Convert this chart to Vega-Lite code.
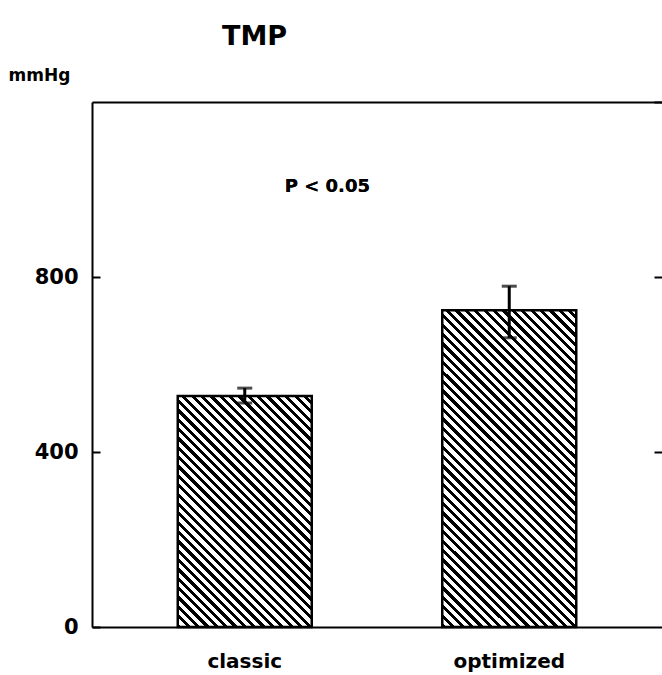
{
  "$schema": "https://vega.github.io/schema/vega-lite/v6.json",
  "width": 570,
  "height": 525,
  "autosize": {"type": "none"},
  "padding": {"left": 92, "top": 102, "right": 0, "bottom": 48},
  "background": "white",
  "config": {
    "view": {"stroke": null},
    "font": "DejaVu Sans",
    "axis": {"grid": false, "domainColor": "black", "domainWidth": 2, "tickColor": "black", "tickWidth": 2, "labelColor": "black", "titleColor": "black", "labelFont": "DejaVu Sans", "titleFont": "DejaVu Sans", "labelFontWeight": "bold", "titleFontWeight": "bold"}
  },
  "data": {
    "values": [
      {"method": "classic", "value": 528, "lower": 512, "upper": 546},
      {"method": "optimized", "value": 724, "lower": 661, "upper": 779}
    ]
  },
  "resolve": {"axis": {"x": "independent", "y": "independent"}},
  "layer": [
    {
      "transform": [{"filter": "datum.method == 'classic'"}],
      "mark": {
        "type": "bar",
        "stroke": "black",
        "strokeWidth": 2.5,
        "fill": {
          "gradient": "linear", "x1": 0, "y1": 1, "x2": 0.6858, "y2": -0.1823,
          "stops": [
            {"offset":0,"color":"#000"},{"offset":0.0115,"color":"#000"},{"offset":0.0115,"color":"#fff"},{"offset":0.0256,"color":"#fff"},
            {"offset":0.0256,"color":"#000"},{"offset":0.0372,"color":"#000"},{"offset":0.0372,"color":"#fff"},{"offset":0.0513,"color":"#fff"},
            {"offset":0.0513,"color":"#000"},{"offset":0.0628,"color":"#000"},{"offset":0.0628,"color":"#fff"},{"offset":0.0769,"color":"#fff"},
            {"offset":0.0769,"color":"#000"},{"offset":0.0885,"color":"#000"},{"offset":0.0885,"color":"#fff"},{"offset":0.1026,"color":"#fff"},
            {"offset":0.1026,"color":"#000"},{"offset":0.1141,"color":"#000"},{"offset":0.1141,"color":"#fff"},{"offset":0.1282,"color":"#fff"},
            {"offset":0.1282,"color":"#000"},{"offset":0.1397,"color":"#000"},{"offset":0.1397,"color":"#fff"},{"offset":0.1538,"color":"#fff"},
            {"offset":0.1538,"color":"#000"},{"offset":0.1654,"color":"#000"},{"offset":0.1654,"color":"#fff"},{"offset":0.1795,"color":"#fff"},
            {"offset":0.1795,"color":"#000"},{"offset":0.1910,"color":"#000"},{"offset":0.1910,"color":"#fff"},{"offset":0.2051,"color":"#fff"},
            {"offset":0.2051,"color":"#000"},{"offset":0.2167,"color":"#000"},{"offset":0.2167,"color":"#fff"},{"offset":0.2308,"color":"#fff"},
            {"offset":0.2308,"color":"#000"},{"offset":0.2423,"color":"#000"},{"offset":0.2423,"color":"#fff"},{"offset":0.2564,"color":"#fff"},
            {"offset":0.2564,"color":"#000"},{"offset":0.2679,"color":"#000"},{"offset":0.2679,"color":"#fff"},{"offset":0.2821,"color":"#fff"},
            {"offset":0.2821,"color":"#000"},{"offset":0.2936,"color":"#000"},{"offset":0.2936,"color":"#fff"},{"offset":0.3077,"color":"#fff"},
            {"offset":0.3077,"color":"#000"},{"offset":0.3192,"color":"#000"},{"offset":0.3192,"color":"#fff"},{"offset":0.3333,"color":"#fff"},
            {"offset":0.3333,"color":"#000"},{"offset":0.3449,"color":"#000"},{"offset":0.3449,"color":"#fff"},{"offset":0.3590,"color":"#fff"},
            {"offset":0.3590,"color":"#000"},{"offset":0.3705,"color":"#000"},{"offset":0.3705,"color":"#fff"},{"offset":0.3846,"color":"#fff"},
            {"offset":0.3846,"color":"#000"},{"offset":0.3962,"color":"#000"},{"offset":0.3962,"color":"#fff"},{"offset":0.4103,"color":"#fff"},
            {"offset":0.4103,"color":"#000"},{"offset":0.4218,"color":"#000"},{"offset":0.4218,"color":"#fff"},{"offset":0.4359,"color":"#fff"},
            {"offset":0.4359,"color":"#000"},{"offset":0.4474,"color":"#000"},{"offset":0.4474,"color":"#fff"},{"offset":0.4615,"color":"#fff"},
            {"offset":0.4615,"color":"#000"},{"offset":0.4731,"color":"#000"},{"offset":0.4731,"color":"#fff"},{"offset":0.4872,"color":"#fff"},
            {"offset":0.4872,"color":"#000"},{"offset":0.4987,"color":"#000"},{"offset":0.4987,"color":"#fff"},{"offset":0.5128,"color":"#fff"},
            {"offset":0.5128,"color":"#000"},{"offset":0.5244,"color":"#000"},{"offset":0.5244,"color":"#fff"},{"offset":0.5385,"color":"#fff"},
            {"offset":0.5385,"color":"#000"},{"offset":0.5500,"color":"#000"},{"offset":0.5500,"color":"#fff"},{"offset":0.5641,"color":"#fff"},
            {"offset":0.5641,"color":"#000"},{"offset":0.5756,"color":"#000"},{"offset":0.5756,"color":"#fff"},{"offset":0.5897,"color":"#fff"},
            {"offset":0.5897,"color":"#000"},{"offset":0.6013,"color":"#000"},{"offset":0.6013,"color":"#fff"},{"offset":0.6154,"color":"#fff"},
            {"offset":0.6154,"color":"#000"},{"offset":0.6269,"color":"#000"},{"offset":0.6269,"color":"#fff"},{"offset":0.6410,"color":"#fff"},
            {"offset":0.6410,"color":"#000"},{"offset":0.6526,"color":"#000"},{"offset":0.6526,"color":"#fff"},{"offset":0.6667,"color":"#fff"},
            {"offset":0.6667,"color":"#000"},{"offset":0.6782,"color":"#000"},{"offset":0.6782,"color":"#fff"},{"offset":0.6923,"color":"#fff"},
            {"offset":0.6923,"color":"#000"},{"offset":0.7038,"color":"#000"},{"offset":0.7038,"color":"#fff"},{"offset":0.7179,"color":"#fff"},
            {"offset":0.7179,"color":"#000"},{"offset":0.7295,"color":"#000"},{"offset":0.7295,"color":"#fff"},{"offset":0.7436,"color":"#fff"},
            {"offset":0.7436,"color":"#000"},{"offset":0.7551,"color":"#000"},{"offset":0.7551,"color":"#fff"},{"offset":0.7692,"color":"#fff"},
            {"offset":0.7692,"color":"#000"},{"offset":0.7808,"color":"#000"},{"offset":0.7808,"color":"#fff"},{"offset":0.7949,"color":"#fff"},
            {"offset":0.7949,"color":"#000"},{"offset":0.8064,"color":"#000"},{"offset":0.8064,"color":"#fff"},{"offset":0.8205,"color":"#fff"},
            {"offset":0.8205,"color":"#000"},{"offset":0.8321,"color":"#000"},{"offset":0.8321,"color":"#fff"},{"offset":0.8462,"color":"#fff"},
            {"offset":0.8462,"color":"#000"},{"offset":0.8577,"color":"#000"},{"offset":0.8577,"color":"#fff"},{"offset":0.8718,"color":"#fff"},
            {"offset":0.8718,"color":"#000"},{"offset":0.8833,"color":"#000"},{"offset":0.8833,"color":"#fff"},{"offset":0.8974,"color":"#fff"},
            {"offset":0.8974,"color":"#000"},{"offset":0.9090,"color":"#000"},{"offset":0.9090,"color":"#fff"},{"offset":0.9231,"color":"#fff"},
            {"offset":0.9231,"color":"#000"},{"offset":0.9346,"color":"#000"},{"offset":0.9346,"color":"#fff"},{"offset":0.9487,"color":"#fff"},
            {"offset":0.9487,"color":"#000"},{"offset":0.9603,"color":"#000"},{"offset":0.9603,"color":"#fff"},{"offset":0.9744,"color":"#fff"},
            {"offset":0.9744,"color":"#000"},{"offset":0.9859,"color":"#000"},{"offset":0.9859,"color":"#fff"},{"offset":1,"color":"#fff"}
          ]
        }
      },
      "encoding": {
        "x": {
          "field": "method", "type": "nominal",
          "scale": {"paddingInner": 0.4934, "paddingOuter": 0.3242},
          "axis": {"orient": "bottom", "title": null, "labelAngle": 0, "ticks": false, "labelFontSize": 20, "labelPadding": 24, "labelBaseline": "top"}
        },
        "y": {
          "field": "value", "type": "quantitative",
          "scale": {"domain": [0, 1200], "nice": false, "zero": true},
          "axis": {"orient": "left", "values": [0, 400, 800], "tickSize": -8, "labelPadding": 22, "labelFontSize": 21, "title": "mmHg", "titleAngle": 0, "titleX": -84, "titleY": -22, "titleAlign": "left", "titleBaseline": "alphabetic", "titleFontSize": 17}
        }
      }
    },
    {
      "transform": [{"filter": "datum.method == 'optimized'"}],
      "mark": {
        "type": "bar",
        "stroke": "black",
        "strokeWidth": 2.5,
        "fill": {
          "gradient": "linear", "x1": 0, "y1": 1, "x2": 0.5103, "y2": -0.2071,
          "stops": [
            {"offset":0,"color":"#000"},{"offset":0.0094,"color":"#000"},{"offset":0.0094,"color":"#fff"},{"offset":0.0208,"color":"#fff"},
            {"offset":0.0208,"color":"#000"},{"offset":0.0302,"color":"#000"},{"offset":0.0302,"color":"#fff"},{"offset":0.0417,"color":"#fff"},
            {"offset":0.0417,"color":"#000"},{"offset":0.0510,"color":"#000"},{"offset":0.0510,"color":"#fff"},{"offset":0.0625,"color":"#fff"},
            {"offset":0.0625,"color":"#000"},{"offset":0.0719,"color":"#000"},{"offset":0.0719,"color":"#fff"},{"offset":0.0833,"color":"#fff"},
            {"offset":0.0833,"color":"#000"},{"offset":0.0927,"color":"#000"},{"offset":0.0927,"color":"#fff"},{"offset":0.1042,"color":"#fff"},
            {"offset":0.1042,"color":"#000"},{"offset":0.1135,"color":"#000"},{"offset":0.1135,"color":"#fff"},{"offset":0.1250,"color":"#fff"},
            {"offset":0.1250,"color":"#000"},{"offset":0.1344,"color":"#000"},{"offset":0.1344,"color":"#fff"},{"offset":0.1458,"color":"#fff"},
            {"offset":0.1458,"color":"#000"},{"offset":0.1552,"color":"#000"},{"offset":0.1552,"color":"#fff"},{"offset":0.1667,"color":"#fff"},
            {"offset":0.1667,"color":"#000"},{"offset":0.1760,"color":"#000"},{"offset":0.1760,"color":"#fff"},{"offset":0.1875,"color":"#fff"},
            {"offset":0.1875,"color":"#000"},{"offset":0.1969,"color":"#000"},{"offset":0.1969,"color":"#fff"},{"offset":0.2083,"color":"#fff"},
            {"offset":0.2083,"color":"#000"},{"offset":0.2177,"color":"#000"},{"offset":0.2177,"color":"#fff"},{"offset":0.2292,"color":"#fff"},
            {"offset":0.2292,"color":"#000"},{"offset":0.2385,"color":"#000"},{"offset":0.2385,"color":"#fff"},{"offset":0.2500,"color":"#fff"},
            {"offset":0.2500,"color":"#000"},{"offset":0.2594,"color":"#000"},{"offset":0.2594,"color":"#fff"},{"offset":0.2708,"color":"#fff"},
            {"offset":0.2708,"color":"#000"},{"offset":0.2802,"color":"#000"},{"offset":0.2802,"color":"#fff"},{"offset":0.2917,"color":"#fff"},
            {"offset":0.2917,"color":"#000"},{"offset":0.3010,"color":"#000"},{"offset":0.3010,"color":"#fff"},{"offset":0.3125,"color":"#fff"},
            {"offset":0.3125,"color":"#000"},{"offset":0.3219,"color":"#000"},{"offset":0.3219,"color":"#fff"},{"offset":0.3333,"color":"#fff"},
            {"offset":0.3333,"color":"#000"},{"offset":0.3427,"color":"#000"},{"offset":0.3427,"color":"#fff"},{"offset":0.3542,"color":"#fff"},
            {"offset":0.3542,"color":"#000"},{"offset":0.3635,"color":"#000"},{"offset":0.3635,"color":"#fff"},{"offset":0.3750,"color":"#fff"},
            {"offset":0.3750,"color":"#000"},{"offset":0.3844,"color":"#000"},{"offset":0.3844,"color":"#fff"},{"offset":0.3958,"color":"#fff"},
            {"offset":0.3958,"color":"#000"},{"offset":0.4052,"color":"#000"},{"offset":0.4052,"color":"#fff"},{"offset":0.4167,"color":"#fff"},
            {"offset":0.4167,"color":"#000"},{"offset":0.4260,"color":"#000"},{"offset":0.4260,"color":"#fff"},{"offset":0.4375,"color":"#fff"},
            {"offset":0.4375,"color":"#000"},{"offset":0.4469,"color":"#000"},{"offset":0.4469,"color":"#fff"},{"offset":0.4583,"color":"#fff"},
            {"offset":0.4583,"color":"#000"},{"offset":0.4677,"color":"#000"},{"offset":0.4677,"color":"#fff"},{"offset":0.4792,"color":"#fff"},
            {"offset":0.4792,"color":"#000"},{"offset":0.4885,"color":"#000"},{"offset":0.4885,"color":"#fff"},{"offset":0.5000,"color":"#fff"},
            {"offset":0.5000,"color":"#000"},{"offset":0.5094,"color":"#000"},{"offset":0.5094,"color":"#fff"},{"offset":0.5208,"color":"#fff"},
            {"offset":0.5208,"color":"#000"},{"offset":0.5302,"color":"#000"},{"offset":0.5302,"color":"#fff"},{"offset":0.5417,"color":"#fff"},
            {"offset":0.5417,"color":"#000"},{"offset":0.5510,"color":"#000"},{"offset":0.5510,"color":"#fff"},{"offset":0.5625,"color":"#fff"},
            {"offset":0.5625,"color":"#000"},{"offset":0.5719,"color":"#000"},{"offset":0.5719,"color":"#fff"},{"offset":0.5833,"color":"#fff"},
            {"offset":0.5833,"color":"#000"},{"offset":0.5927,"color":"#000"},{"offset":0.5927,"color":"#fff"},{"offset":0.6042,"color":"#fff"},
            {"offset":0.6042,"color":"#000"},{"offset":0.6135,"color":"#000"},{"offset":0.6135,"color":"#fff"},{"offset":0.6250,"color":"#fff"},
            {"offset":0.6250,"color":"#000"},{"offset":0.6344,"color":"#000"},{"offset":0.6344,"color":"#fff"},{"offset":0.6458,"color":"#fff"},
            {"offset":0.6458,"color":"#000"},{"offset":0.6552,"color":"#000"},{"offset":0.6552,"color":"#fff"},{"offset":0.6667,"color":"#fff"},
            {"offset":0.6667,"color":"#000"},{"offset":0.6760,"color":"#000"},{"offset":0.6760,"color":"#fff"},{"offset":0.6875,"color":"#fff"},
            {"offset":0.6875,"color":"#000"},{"offset":0.6969,"color":"#000"},{"offset":0.6969,"color":"#fff"},{"offset":0.7083,"color":"#fff"},
            {"offset":0.7083,"color":"#000"},{"offset":0.7177,"color":"#000"},{"offset":0.7177,"color":"#fff"},{"offset":0.7292,"color":"#fff"},
            {"offset":0.7292,"color":"#000"},{"offset":0.7385,"color":"#000"},{"offset":0.7385,"color":"#fff"},{"offset":0.7500,"color":"#fff"},
            {"offset":0.7500,"color":"#000"},{"offset":0.7594,"color":"#000"},{"offset":0.7594,"color":"#fff"},{"offset":0.7708,"color":"#fff"},
            {"offset":0.7708,"color":"#000"},{"offset":0.7802,"color":"#000"},{"offset":0.7802,"color":"#fff"},{"offset":0.7917,"color":"#fff"},
            {"offset":0.7917,"color":"#000"},{"offset":0.8010,"color":"#000"},{"offset":0.8010,"color":"#fff"},{"offset":0.8125,"color":"#fff"},
            {"offset":0.8125,"color":"#000"},{"offset":0.8219,"color":"#000"},{"offset":0.8219,"color":"#fff"},{"offset":0.8333,"color":"#fff"},
            {"offset":0.8333,"color":"#000"},{"offset":0.8427,"color":"#000"},{"offset":0.8427,"color":"#fff"},{"offset":0.8542,"color":"#fff"},
            {"offset":0.8542,"color":"#000"},{"offset":0.8635,"color":"#000"},{"offset":0.8635,"color":"#fff"},{"offset":0.8750,"color":"#fff"},
            {"offset":0.8750,"color":"#000"},{"offset":0.8844,"color":"#000"},{"offset":0.8844,"color":"#fff"},{"offset":0.8958,"color":"#fff"},
            {"offset":0.8958,"color":"#000"},{"offset":0.9052,"color":"#000"},{"offset":0.9052,"color":"#fff"},{"offset":0.9167,"color":"#fff"},
            {"offset":0.9167,"color":"#000"},{"offset":0.9260,"color":"#000"},{"offset":0.9260,"color":"#fff"},{"offset":0.9375,"color":"#fff"},
            {"offset":0.9375,"color":"#000"},{"offset":0.9469,"color":"#000"},{"offset":0.9469,"color":"#fff"},{"offset":0.9583,"color":"#fff"},
            {"offset":0.9583,"color":"#000"},{"offset":0.9677,"color":"#000"},{"offset":0.9677,"color":"#fff"},{"offset":0.9792,"color":"#fff"},
            {"offset":0.9792,"color":"#000"},{"offset":0.9885,"color":"#000"},{"offset":0.9885,"color":"#fff"},{"offset":1,"color":"#fff"}
          ]
        }
      },
      "encoding": {
        "x": {"field": "method", "type": "nominal", "axis": null},
        "y": {"field": "value", "type": "quantitative", "axis": null}
      }
    },
    {
      "mark": {
        "type": "errorbar",
        "ticks": {"size": 15, "thickness": 3, "color": "black"},
        "rule": {"strokeWidth": 3, "color": "black"}
      },
      "encoding": {
        "x": {
          "field": "method", "type": "nominal",
          "axis": {"orient": "top", "labels": false, "ticks": false, "title": "TMP", "titleFontSize": 27, "titleX": 162, "titleY": -58, "titleAlign": "center", "titleBaseline": "alphabetic"}
        },
        "y": {
          "field": "lower", "type": "quantitative",
          "axis": {"orient": "right", "values": [400, 800, 1200], "labels": false, "domain": false, "tickSize": -8, "title": null}
        },
        "y2": {"field": "upper"}
      }
    },
    {
      "mark": {"type": "text", "align": "left", "baseline": "alphabetic", "dx": 40, "fontSize": 18, "fontWeight": "bold", "font": "DejaVu Sans", "color": "black"},
      "encoding": {
        "x": {"datum": "classic", "type": "nominal", "axis": null},
        "y": {"datum": 994, "type": "quantitative", "axis": null},
        "text": {"value": "P < 0.05"}
      }
    }
  ]
}
